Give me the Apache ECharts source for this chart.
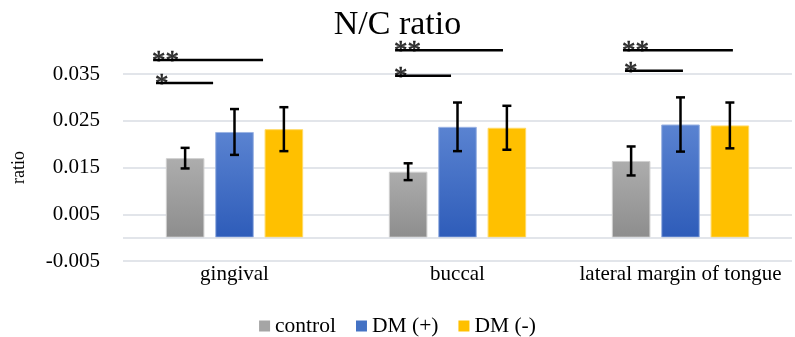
<!DOCTYPE html>
<html>
<head>
<meta charset="utf-8">
<script src="https://cdn.jsdelivr.net/npm/echarts@6/dist/echarts.min.js"></script>
<style>html,body{margin:0;padding:0;background:#fff}#c{width:795px;height:337px}</style>
</head>
<body>
<div id="c"></div>
<script>
const categories = ['gingival', 'buccal', 'lateral margin of tongue'];
const seriesNames = ['control', 'DM (+)', 'DM (-)'];
const controlMean = [0.0170, 0.0141, 0.0164];
const controlErr  = [0.0022, 0.0018, 0.0031];
const dmPlusMean  = [0.0226, 0.0237, 0.0242];
const dmPlusErr   = [0.0049, 0.0052, 0.0058];
const dmMinusMean = [0.0232, 0.0235, 0.0240];
const dmMinusErr  = [0.0047, 0.0047, 0.0049];
const yTicks = [-0.005, 0.005, 0.015, 0.025, 0.035];
// significance annotations (x in category units 0..3, y in ratio units)
const sigStart = [0.135, 0.148, 1.22, 1.22, 2.242, 2.251];
const sigEnd   = [0.628, 0.404, 1.704, 1.471, 2.735, 2.511];
const sigLevel = [0.0380, 0.0331, 0.0401, 0.0346, 0.0401, 0.0357];
const sigLabel = ['**', '*', '**', '*', '**', '*'];

const FONT = 'Liberation Serif';
const means = [controlMean, dmPlusMean, dmMinusMean];
const errs = [controlErr, dmPlusErr, dmMinusErr];
const BARW = 0.173, GAP = 0.28;
const colors = [
  {type:'linear',x:0,y:0,x2:0,y2:1,colorStops:[{offset:0,color:'#adadad'},{offset:1,color:'#8d8d8d'}]},
  {type:'linear',x:0,y:0,x2:0,y2:1,colorStops:[{offset:0,color:'#5a83d1'},{offset:1,color:'#2e5cb9'}]},
  '#ffc000'
];
const borders = ['#cfcfcf', '#9bb3e3', '#ffd966'];
const legendColors = ['#a5a5a5', '#4472c4', '#ffc000'];

const series = [];
seriesNames.forEach((name, k) => {
  const s = {
    name, type: 'bar', xAxisIndex: 0, yAxisIndex: 0,
    barWidth: (BARW*100)+'%', barGap: (GAP*100)+'%',
    itemStyle: {color: colors[k], borderColor: borders[k], borderWidth: 1},
    data: means[k], silent: true, z: 2
  };
  if (k === 0) {
    s.markLine = {silent: true, symbol: 'none', label: {show: false},
      lineStyle: {color: '#d9dce3', width: 1.5, type: 'solid'}, data: [{yAxis: 0}]};
  }
  series.push(s);
});
seriesNames.forEach((name, k) => {
  const off = (k - 1) * BARW * (1 + GAP);
  series.push({
    type: 'custom', xAxisIndex: 0, yAxisIndex: 0, silent: true, z: 5,
    data: means[k].map((m, i) => [i, m - errs[k][i], m + errs[k][i]]),
    renderItem: function (params, api) {
      const band = api.size([1, 0])[0];
      const lo = api.coord([api.value(0), api.value(1)]);
      const hi = api.coord([api.value(0), api.value(2)]);
      const x = lo[0] + off * band;
      const cap = 4.5;
      const st = {stroke: '#000', lineWidth: 2.5};
      return {type: 'group', children: [
        {type: 'line', shape: {x1: x, y1: lo[1], x2: x, y2: hi[1]}, style: st},
        {type: 'line', shape: {x1: x - cap, y1: lo[1], x2: x + cap, y2: lo[1]}, style: st},
        {type: 'line', shape: {x1: x - cap, y1: hi[1], x2: x + cap, y2: hi[1]}, style: st}
      ]};
    }
  });
});
sigStart.forEach((x0, i) => {
  series.push({
    type: 'line', xAxisIndex: 1, yAxisIndex: 0, silent: true, clip: false,
    symbol: 'none', lineStyle: {color: '#000', width: 2.5},
    data: [[x0, sigLevel[i]], [sigEnd[i], sigLevel[i]]], z: 6
  });
});
series.push({
  type: 'scatter', xAxisIndex: 1, yAxisIndex: 0, silent: true, clip: false,
  symbolSize: 0, itemStyle: {color: 'rgba(0,0,0,0)'}, z: 7,
  data: sigStart.map((x0, i) => [x0, sigLevel[i], sigLabel[i]]),
  label: {show: true, formatter: p => p.value[2], position: [0, 0], align: 'left',
    verticalAlign: 'middle', offset: [-1, 2], color: '#000', fontFamily: FONT, fontSize: 27,
    textBorderColor: '#000', textBorderWidth: 0.6}
});

const chart = echarts.init(document.getElementById('c'), null, {renderer: 'canvas'});
chart.setOption({
  animation: false,
  backgroundColor: '#fff',
  title: {text: 'N/C ratio', left: 'center', top: 3,
    textStyle: {fontFamily: FONT, fontSize: 34, fontWeight: 'normal', color: '#000'}},
  legend: {
    bottom: -5, left: 'center', itemWidth: 11, itemHeight: 11, itemGap: 20, icon: 'rect',
    data: seriesNames.map((n, k) => ({name: n, itemStyle: {color: legendColors[k], borderWidth: 0}})),
    textStyle: {fontFamily: FONT, fontSize: 21.5, color: '#000'}
  },
  grid: {left: 123, right: 3, top: 74, bottom: 76, containLabel: false},
  xAxis: [
    {type: 'category', data: categories, position: 'bottom',
      axisLine: {show: false, onZero: false}, axisTick: {show: false},
      axisLabel: {interval: 0, margin: 3, fontFamily: FONT, fontSize: 21, color: '#000'}},
    {type: 'value', min: 0, max: 3, show: false}
  ],
  yAxis: {
    type: 'value', min: yTicks[0], max: yTicks[yTicks.length - 1], interval: 0.01,
    name: 'ratio', nameLocation: 'middle', nameGap: 95, nameRotate: 90,
    nameTextStyle: {fontFamily: FONT, fontSize: 18, color: '#000'},
    axisLine: {show: false}, axisTick: {show: false},
    axisLabel: {margin: 23, fontFamily: FONT, fontSize: 21, color: '#000',
      formatter: v => v.toFixed(3)},
    splitLine: {lineStyle: {color: '#d9dce3', width: 1.5}}
  },
  series
});
</script>
</body>
</html>
